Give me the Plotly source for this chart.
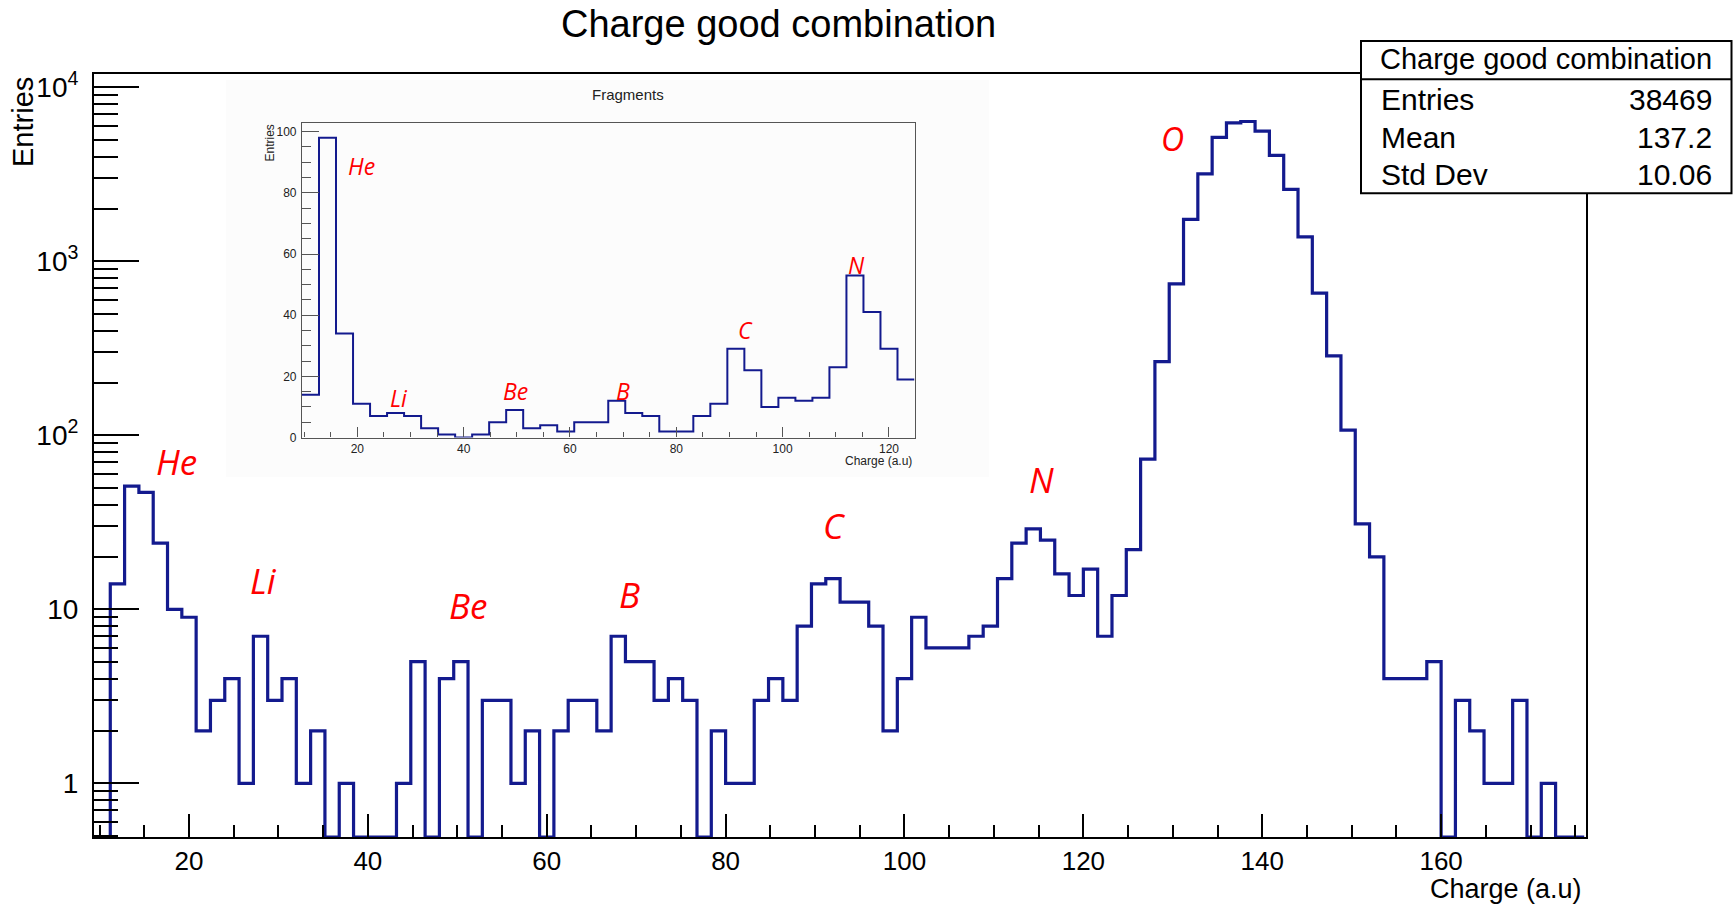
import numpy as np
import plotly.graph_objects as go

# ---------------- data ----------------
# main histogram: "Charge good combination" (bins of 1.6 starting at 9.6)
main_bin_start = 9.6
main_bin_width = 1.6
main_counts = [
    0, 14, 51, 47, 24, 10, 9, 2, 3, 4,
    1, 7, 3, 4, 1, 2, 0, 1, 0, 0,
    0, 1, 5, 0, 4, 5, 0, 3, 3, 1,
    2, 0, 2, 3, 3, 2, 7, 5, 5, 3,
    4, 3, 0, 2, 1, 1, 3, 4, 3, 8,
    14, 15, 11, 11, 8, 2, 4, 9, 6, 6,
    6, 7, 8, 15, 24, 29, 25, 16, 12, 17,
    7, 12, 22, 73, 265, 741, 1740, 3180, 5150, 6240,
    6360, 5600, 4060, 2590, 1380, 656, 286, 107, 31, 20,
    4, 4, 4, 5, 0, 3, 2, 1, 1, 3,
    0, 1, 0, 0,
]

# inset histogram: "Fragments" (bins of 3.2 starting at 9.6)
inset_bin_start = 9.6
inset_bin_width = 3.2
inset_counts = [
    14, 98, 34, 11, 7, 8, 7, 3, 1, 0,
    1, 5, 9, 3, 4, 2, 5, 5, 12, 8,
    7, 2, 2, 7, 11, 29, 22, 10, 13, 12,
    13, 23, 53, 41, 29, 19,
]

# stats box
stats_title = "Charge good combination"
stats_labels = ["Entries", "Mean", "Std Dev"]
stats_values = ["38469", "137.2", "10.06"]

# element labels (name, x, y) for the main plot and the inset
main_labels = [("He", 18.6, 70.5), ("Li", 28.3, 14.7), ("Be", 51.2, 10.5),
               ("B", 69.3, 12.1), ("C", 92.2, 30.5), ("N", 115.3, 56.0),
               ("O", 130.0, 5080.0)]
inset_labels = [("He", 20.7, 88.9), ("Li", 27.8, 12.9), ("Be", 49.8, 15.2),
                ("B", 70.0, 15.1), ("C", 93.0, 35.0), ("N", 113.8, 56.3)]

main_y_ticks = [1, 10, 100, 1000, 10000]
main_y_ticktext = ["1", "10", "10<sup>2</sup>", "10<sup>3</sup>", "10<sup>4</sup>"]

# ---------------- layout geometry ----------------
W, H = 1733, 906
ML, MR, MT, MB = 94, 147, 74, 69
PW, PH = W - ML - MR, H - MT - MB


def px_x(px):
    return (px - ML) / PW


def px_y(py):
    return (H - MB - py) / PH


X_RANGE = [9.38, 176.2]
Y_LOG_RANGE = [-0.3086, 4.0764]
INSET_X_RANGE = [9.6, 124.8]
INSET_Y_RANGE = [0, 102.9]

BLUE = "#131a8e"
FONT = "Liberation Sans, Arial, sans-serif"
LABEL_FONT = "Open Sans, sans-serif"

# ---------------- traces ----------------
main_edges = np.round(main_bin_start + main_bin_width * np.arange(len(main_counts) + 1), 2)
floor_val = 10 ** Y_LOG_RANGE[0]
main_y = [c if c > 0 else floor_val for c in main_counts]
main_y = main_y + [main_y[-1]]

inset_edges = np.round(inset_bin_start + inset_bin_width * np.arange(len(inset_counts) + 1), 2)
inset_y = list(inset_counts) + [inset_counts[-1]]

fig = go.Figure()
fig.add_trace(go.Scatter(x=main_edges, y=main_y, mode="lines",
                         line=dict(shape="hv", color=BLUE, width=3.2),
                         xaxis="x", yaxis="y", hoverinfo="skip", showlegend=False))
fig.add_trace(go.Scatter(x=inset_edges, y=inset_y, mode="lines",
                         line=dict(shape="hv", color=BLUE, width=2),
                         xaxis="x2", yaxis="y2", hoverinfo="skip", showlegend=False))

# minor ticks for log axis
minor_log = [k * 10.0 ** d for d in range(-1, 5) for k in range(2, 10)]
minor_log = [v for v in minor_log if 10 ** Y_LOG_RANGE[0] <= v <= 10 ** Y_LOG_RANGE[1]]

annotations = []
# title
annotations.append(dict(text="Charge good combination", x=px_x(778), y=px_y(24),
                        xref="paper", yref="paper", xanchor="center", yanchor="middle",
                        showarrow=False, font=dict(family=FONT, size=38, color="black")))
# axis titles
annotations.append(dict(text="Entries", x=px_x(23), y=px_y(75), xref="paper", yref="paper",
                        xanchor="center", yanchor="top", textangle=-90, showarrow=False,
                        font=dict(family=FONT, size=29, color="black")))
annotations.append(dict(text="Charge (a.u)", x=px_x(1584), y=px_y(905.5), xref="paper", yref="paper",
                        xanchor="right", yanchor="bottom", showarrow=False,
                        font=dict(family=FONT, size=27, color="black")))
# inset texts
annotations.append(dict(text="Fragments", x=px_x(628), y=px_y(95), xref="paper", yref="paper",
                        xanchor="center", yanchor="middle", showarrow=False,
                        font=dict(family=FONT, size=15, color="#222")))
annotations.append(dict(text="Entries", x=px_x(270), y=px_y(123), xref="paper", yref="paper",
                        xanchor="center", yanchor="top", textangle=-90, showarrow=False,
                        font=dict(family=FONT, size=12, color="#222")))
annotations.append(dict(text="Charge (a.u)", x=px_x(914), y=px_y(461), xref="paper", yref="paper",
                        xanchor="right", yanchor="middle", showarrow=False,
                        font=dict(family=FONT, size=12, color="#222")))
# stats box texts
annotations.append(dict(text=stats_title, x=px_x(1546), y=px_y(59), xref="paper", yref="paper",
                        xanchor="center", yanchor="middle", showarrow=False,
                        font=dict(family=FONT, size=29, color="black")))
row_y = [99.3, 137.3, 175.0]
for lab, val, ry in zip(stats_labels, stats_values, row_y):
    annotations.append(dict(text=lab, x=px_x(1379), y=px_y(ry), xref="paper", yref="paper",
                            xanchor="left", yanchor="middle", showarrow=False,
                            font=dict(family=FONT, size=30, color="black")))
    annotations.append(dict(text=val, x=px_x(1714), y=px_y(ry), xref="paper", yref="paper",
                            xanchor="right", yanchor="middle", showarrow=False,
                            font=dict(family=FONT, size=30, color="black")))
# element labels
for name, lx, ly in main_labels:
    annotations.append(dict(text=name, x=lx, y=np.log10(ly), xref="x", yref="y",
                            xanchor="center", yanchor="middle", showarrow=False,
                            font=dict(family=LABEL_FONT, size=32 if name == "O" else 35,
                                      color="#ff0000", style="italic")))
for name, lx, ly in inset_labels:
    annotations.append(dict(text=name, x=lx, y=ly, xref="x2", yref="y2",
                            xanchor="center", yanchor="middle", showarrow=False,
                            font=dict(family=LABEL_FONT, size=23, color="#ff0000", style="italic")))

shapes = [
    # faint background of the pasted inset picture
    dict(type="rect", xref="paper", yref="paper", x0=px_x(226), x1=px_x(989),
         y0=px_y(477), y1=px_y(80), fillcolor="#fcfcfc", line=dict(width=0), layer="below"),
    # stats box
    dict(type="rect", xref="paper", yref="paper", x0=px_x(1361), x1=px_x(1731.5),
         y0=px_y(193.3), y1=px_y(41), fillcolor="white", line=dict(color="black", width=2),
         layer="above"),
    dict(type="line", xref="paper", yref="paper", x0=px_x(1361), x1=px_x(1731.5),
         y0=px_y(79.3), y1=px_y(79.3), line=dict(color="black", width=2), layer="above"),
]

fig.update_layout(
    width=W, height=H,
    margin=dict(l=ML, r=MR, t=MT, b=MB, pad=0),
    paper_bgcolor="white", plot_bgcolor="rgba(0,0,0,0)",
    showlegend=False,
    xaxis=dict(domain=[0, 1], range=X_RANGE, anchor="y",
               showline=True, mirror=True, linecolor="black", linewidth=2,
               showgrid=False, zeroline=False,
               ticks="inside", ticklen=23, tickwidth=2, tickcolor="black",
               tickmode="linear", tick0=0, dtick=20,
               minor=dict(ticks="inside", ticklen=12, tickwidth=2, tickcolor="black",
                          tickmode="linear", tick0=0, dtick=5, showgrid=False),
               tickfont=dict(family=FONT, size=26, color="black"), ticklabelstandoff=0),
    yaxis=dict(domain=[0, 1], type="log", range=Y_LOG_RANGE, anchor="x",
               showline=True, mirror=True, linecolor="black", linewidth=2,
               showgrid=False, zeroline=False,
               ticks="inside", ticklen=45, tickwidth=2, tickcolor="black",
               tickmode="array", tickvals=main_y_ticks, ticktext=main_y_ticktext,
               minor=dict(ticks="inside", ticklen=24, tickwidth=2, tickcolor="black",
                          tickmode="array", tickvals=minor_log, showgrid=False),
               tickfont=dict(family=FONT, size=28, color="black"), ticklabelstandoff=8),
    xaxis2=dict(domain=[px_x(302), px_x(914.5)], range=INSET_X_RANGE, anchor="y2",
                showline=True, mirror=True, linecolor="#555", linewidth=1.2,
                showgrid=False, zeroline=False,
                ticks="inside", ticklen=10, tickwidth=1, tickcolor="#555",
                tickmode="linear", tick0=0, dtick=20,
                minor=dict(ticks="inside", ticklen=5, tickwidth=1, tickcolor="#555",
                           tickmode="linear", tick0=0, dtick=5, showgrid=False),
                tickfont=dict(family=FONT, size=12, color="#222"), ticklabelstandoff=0),
    yaxis2=dict(domain=[px_y(437.5), px_y(122.8)], range=INSET_Y_RANGE, anchor="x2",
                showline=True, mirror=True, linecolor="#555", linewidth=1.2,
                showgrid=False, zeroline=False,
                ticks="inside", ticklen=17, tickwidth=1, tickcolor="#555",
                tickmode="linear", tick0=0, dtick=20,
                minor=dict(ticks="inside", ticklen=9, tickwidth=1, tickcolor="#555",
                           tickmode="linear", tick0=0, dtick=5, showgrid=False),
                tickfont=dict(family=FONT, size=12, color="#222"), ticklabelstandoff=2),
    annotations=annotations,
    shapes=shapes,
)

fig.write_html("out.html")
